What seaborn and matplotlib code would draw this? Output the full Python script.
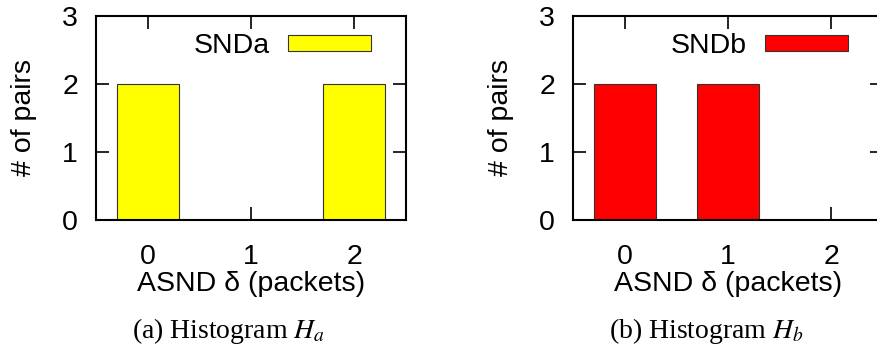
import matplotlib
matplotlib.use("Agg")
import matplotlib.pyplot as plt
import seaborn as sns
import pandas as pd

# Data
categories = ["0", "1", "2"]
counts_a = [2, 0, 2]
counts_b = [2, 2, 0]
labels = ["SNDa", "SNDb"]
captions = ["(a) Histogram $H_a$", "(b) Histogram $H_b$"]
colors = ["#ffff00", "#ff0000"]
yticks = [0, 1, 2, 3]

sns.set_style("ticks")
plt.rcParams["font.family"] = ["Liberation Sans", "DejaVu Sans"]
plt.rcParams["mathtext.fontset"] = "stix"
plt.rcParams["text.color"] = "black"
plt.rcParams["axes.labelcolor"] = "black"
plt.rcParams["xtick.color"] = "black"
plt.rcParams["ytick.color"] = "black"

W, H = 877, 345
fig = plt.figure(figsize=(W / 100, H / 100), dpi=100)

panels = [
    (96, counts_a, labels[0], captions[0], colors[0]),
    (573, counts_b, labels[1], captions[1], colors[1]),
]

ax_w = 310
ax_top, ax_bot = 16, 220
fs = 20.5

for left, counts, lab, cap, col in panels:
    ax = fig.add_axes([left / W, 1 - ax_bot / H, ax_w / W, (ax_bot - ax_top) / H])
    df = pd.DataFrame({"delta": categories, "count": counts})
    sns.barplot(data=df, x="delta", y="count", color=col, width=0.6,
                edgecolor="#333333", linewidth=0.8, saturation=1, ax=ax,
                label=lab, zorder=2)
    ax.set_xlim(-0.5, 2.5)
    ax.set_ylim(0, 3)
    ax.set_yticks(yticks)
    ax.set_yticklabels([str(v) for v in yticks])
    ax.set_axisbelow(True)
    for s in ax.spines.values():
        s.set_visible(True)
        s.set_linewidth(1.5)
        s.set_color("black")
        s.set_zorder(3)
    ax.tick_params(axis="both", which="both", direction="in", length=9.5,
                   width=1.2, top=True, right=True, labelsize=fs,
                   color="black", labelcolor="black")
    ax.tick_params(axis="x", pad=17.5)
    ax.tick_params(axis="y", pad=13)
    ax.set_xlabel("ASND δ (packets)", fontsize=fs, color="black")
    ax.set_ylabel("# of pairs", fontsize=fs, color="black")
    ax.xaxis.set_label_coords(0.5, -0.25)
    ax.yaxis.set_label_coords(-0.19, 0.5)
    ax.legend(loc="center right", bbox_to_anchor=(0.887, 0.853), frameon=False,
              markerfirst=False, handlelength=2.9, handleheight=0.5,
              handletextpad=0.65, borderpad=0, borderaxespad=0, fontsize=fs,
              labelcolor="black")
    cx = (left + ax_w / 2 - 22) / W
    fig.text(cx, 1 - 338 / H, cap, ha="center", va="baseline", color="black",
             fontsize=20, family=["Liberation Serif", "DejaVu Serif"])

fig.savefig("out.png", dpi=100)
